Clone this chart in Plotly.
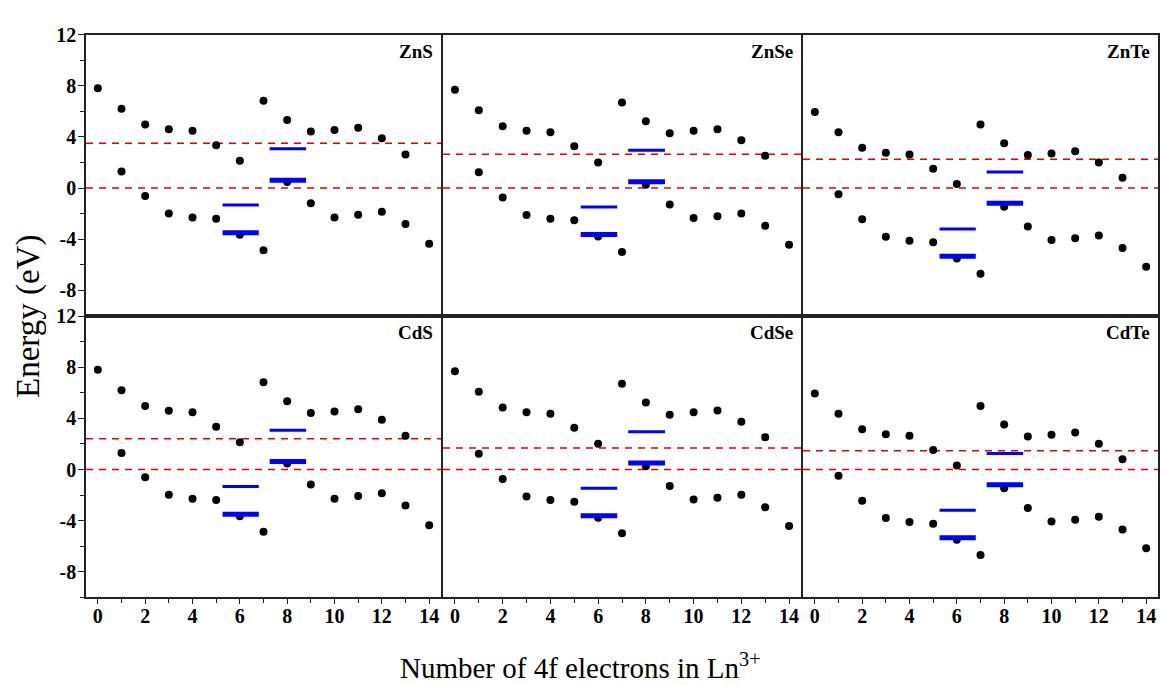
import plotly.graph_objects as go

# ---------------- data ----------------
electrons_upper = list(range(0, 14))
electrons_lower = list(range(1, 15))

s_upper = [7.8, 6.2, 4.97, 4.6, 4.48, 3.35, 2.14, 6.83, 5.33, 4.42, 4.54, 4.72, 3.89, 2.63]
s_lower = [1.29, -0.61, -1.98, -2.29, -2.39, -3.65, -4.86, 0.47, -1.18, -2.29, -2.08, -1.85, -2.81, -4.35]
se_upper = [7.68, 6.08, 4.84, 4.48, 4.36, 3.27, 2.01, 6.7, 5.23, 4.28, 4.48, 4.61, 3.74, 2.53]
se_lower = [1.24, -0.74, -2.1, -2.39, -2.52, -3.78, -4.99, 0.26, -1.28, -2.34, -2.21, -1.98, -2.95, -4.42]
te_upper = [5.95, 4.36, 3.15, 2.76, 2.63, 1.52, 0.32, 4.97, 3.51, 2.58, 2.71, 2.89, 2.01, 0.8]
te_lower = [-0.48, -2.44, -3.8, -4.11, -4.24, -5.5, -6.69, -1.46, -3.0, -4.06, -3.93, -3.7, -4.68, -6.15]

compounds = ["ZnS", "ZnSe", "ZnTe", "CdS", "CdSe", "CdTe"]
compound_anion = ["S", "Se", "Te", "S", "Se", "Te"]
band_gaps = [3.5, 2.65, 2.25, 2.4, 1.68, 1.47]

# level segments (x extents) and energies: thin-left, thick-left, thin-right, thick-right
level_left_x = [5.27, 6.8]
level_right_x = [7.26, 8.8]
levels = {
    "S": [-1.33, -3.5, 3.07, 0.62],
    "Se": [-1.47, -3.62, 2.96, 0.5],
    "Te": [-3.19, -5.33, 1.25, -1.19],
}
dots = {
    "S": (s_upper, s_lower),
    "Se": (se_upper, se_lower),
    "Te": (te_upper, te_lower),
}

y_ticks = [-8, -4, 0, 4, 8, 12]
y_tick_labels = ["-8", "-4", "0", "4", "8", "12"]
x_ticks = [0, 2, 4, 6, 8, 10, 12, 14]
x_tick_labels = ["0", "2", "4", "6", "8", "10", "12", "14"]

# ---------------- layout geometry ----------------
W, H = 1160, 685
col_px = [(86, 441), (443, 801), (803, 1158)]
row_px = [(24, 310), (310, 596)]
SERIF = "Liberation Serif, Times New Roman, serif"

fig = go.Figure()
tickfont = dict(family=SERIF, size=20, color="black")
layout = {}
shapes = []
annotations = []

for i, name in enumerate(compounds):
    r, c = divmod(i, 3)
    sfx = "" if i == 0 else str(i + 1)
    xa, ya = "x" + sfx, "y" + sfx
    anion = compound_anion[i]
    up, lo = dots[anion]

    fig.add_trace(go.Scatter(x=electrons_upper, y=up, xaxis=xa, yaxis=ya, mode="markers",
                             marker=dict(color="black", size=8), showlegend=False))
    fig.add_trace(go.Scatter(x=electrons_lower, y=lo, xaxis=xa, yaxis=ya, mode="markers",
                             marker=dict(color="black", size=8), showlegend=False))
    lv = levels[anion]
    for xs, yv, w in [(level_left_x, lv[0], 3), (level_left_x, lv[1], 5),
                      (level_right_x, lv[2], 3), (level_right_x, lv[3], 5)]:
        fig.add_trace(go.Scatter(x=xs, y=[yv, yv], xaxis=xa, yaxis=ya, mode="lines",
                                 line=dict(color="#0000ff", width=w), showlegend=False))

    for yv in [0, band_gaps[i]]:
        shapes.append(dict(type="line", xref=xa + " domain", yref=ya, x0=0, x1=1, y0=yv, y1=yv,
                           line=dict(color="#e60000", width=1.5, dash="7px,6px"), layer="below"))

    annotations.append(dict(text="<b>%s</b>" % name, xref=xa + " domain", yref=ya + " domain",
                            x=1, y=1, xanchor="right", yanchor="top", xshift=-6, yshift=-4,
                            showarrow=False, font=dict(family=SERIF, size=19, color="black")))

    x0, x1 = col_px[c]
    y0, y1 = row_px[r]
    xkey = "xaxis" + sfx
    ykey = "yaxis" + sfx
    layout[xkey] = dict(domain=[x0 / W, x1 / W], anchor=ya, range=[-0.5, 14.5],
                        showline=True, mirror=True, linecolor="#222", linewidth=1.5,
                        showgrid=False, zeroline=False, tickmode="array", tickvals=x_ticks,
                        ticktext=["<b>%s</b>" % t for t in x_tick_labels],
                        ticks="outside" if r == 1 else "", ticklen=5, tickcolor="#222",
                        showticklabels=(r == 1), tickfont=tickfont, ticklabelstandoff=-5,
                        minor=dict(dtick=1, tick0=0, ticks="outside" if r == 1 else "",
                                   ticklen=4, tickcolor="#222"))
    layout[ykey] = dict(domain=[1 - y1 / H, 1 - y0 / H], anchor=xa, range=[-10, 12],
                        showline=True, mirror=True, linecolor="#222", linewidth=1.5,
                        showgrid=False, zeroline=False, tickmode="array", tickvals=y_ticks,
                        ticktext=["<b>%s</b>" % t for t in y_tick_labels],
                        ticks="outside" if c == 0 else "", ticklen=6, tickcolor="#222",
                        showticklabels=(c == 0), tickfont=tickfont, ticklabelstandoff=-2,
                        minor=dict(dtick=2, tick0=0, ticks="outside" if c == 0 else "",
                                   ticklen=4, tickcolor="#222"))

annotations.append(dict(text="Energy (eV)", xref="paper", yref="paper", x=28 / W, y=1 - 311 / H,
                        textangle=-90, showarrow=False, xanchor="center", yanchor="middle",
                        font=dict(family=SERIF, size=33, color="black")))
annotations.append(dict(text="Number of 4f electrons in Ln<sup>3+</sup>", xref="paper", yref="paper",
                        x=580 / W, y=1 - 666 / H, showarrow=False, xanchor="center", yanchor="middle",
                        font=dict(family=SERIF, size=29, color="black")))

fig.update_layout(width=W, height=H, margin=dict(l=0, r=0, t=0, b=0),
                  paper_bgcolor="white", plot_bgcolor="white",
                  shapes=shapes, annotations=annotations, **layout)

fig.write_html("out.html")
